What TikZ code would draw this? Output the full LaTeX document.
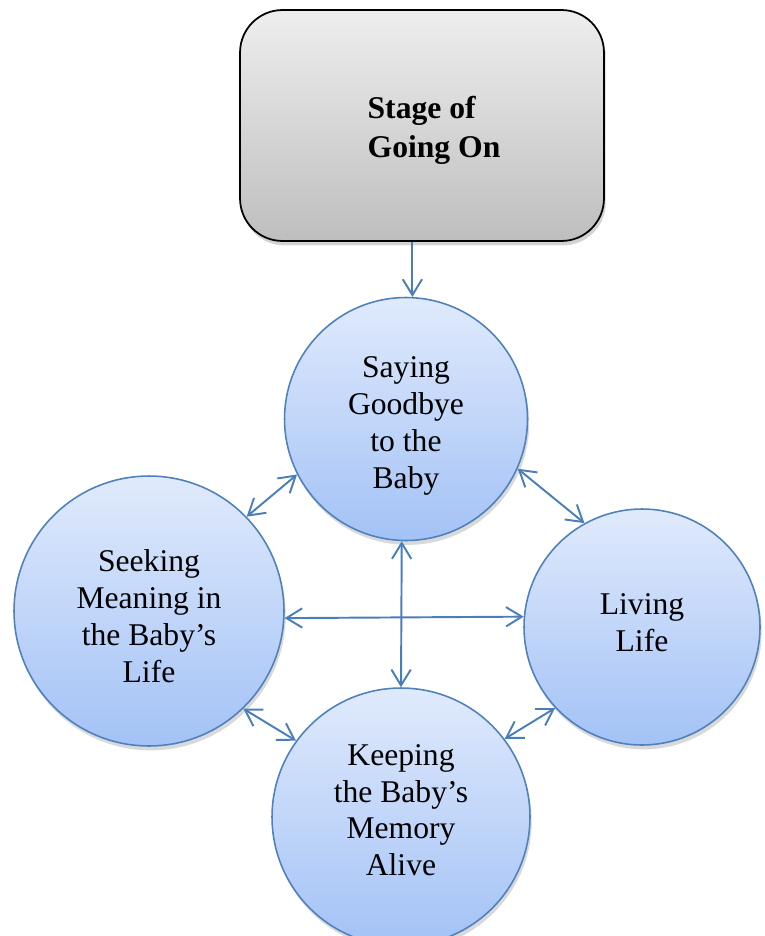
\documentclass[tikz,border=0pt]{standalone}
\usepackage{fontspec}
\setmainfont{Liberation Serif}
\usetikzlibrary{arrows.meta,shadows}
\definecolor{circtop}{HTML}{E0EAFC}
\definecolor{circbot}{HTML}{A3C2F6}
\definecolor{circline}{HTML}{4F81BD}
\definecolor{arr}{HTML}{4A7EBB}
\definecolor{boxtop}{HTML}{EEEEEE}
\definecolor{boxbot}{HTML}{BEBEBE}

\begin{document}
\begin{tikzpicture}[x=0.02cm,y=-0.02cm,
    bubble/.style={circle,draw=circline,line width=0.9pt,top color=circtop,
      bottom color=circbot,minimum size=#1,inner sep=0pt,align=center,
      font=\fontsize{18}{21}\selectfont,
      drop shadow={opacity=0.3,shadow xshift=1pt,shadow yshift=-2.5pt}},
    link/.style={draw=arr,line width=1.1pt,{Straight Barb[length=9pt,width=11pt]}-{Straight Barb[length=9pt,width=11pt]}}]
  \clip (0,0) rectangle (764,936);
  % stage box
  \node[draw=black,line width=1pt,rounded corners=0.85cm,top color=boxtop,
    bottom color=boxbot,minimum width=7.28cm,minimum height=4.62cm,
    drop shadow={opacity=0.35,shadow xshift=1pt,shadow yshift=-2.5pt}]
    (stage) at (422,125.5) {};
  \node[align=left,font=\fontsize{18}{22}\bfseries]
    (stagetext) at ([xshift=0.24cm,yshift=-0.1cm]stage.center) {Stage of\\ Going On};
  % the four circles
  \node[bubble=4.86cm] (say) at (406,419) {\rule{0pt}{20pt}Saying\\Goodbye\\to the\\Baby};
  \node[bubble=5.4cm] (seek) at (149,611) {\rule{0pt}{18pt}Seeking\\Meaning in\\the Baby's\\Life};
  \node[bubble=4.72cm] (live) at (642,627) {Living\\Life\rule[-5pt]{0pt}{5pt}};
  \node[bubble=5.16cm] (keep) at (401,817) {Keeping\\the Baby's\\Memory\\Alive\rule[-8pt]{0pt}{8pt}};
  % connectors
  \draw[draw=arr,line width=1.1pt,-{Straight Barb[length=9pt,width=11pt]}]
    (say.87 |- stage.south) -- (say.87);
  \draw[link] (say.207) -- (seek.44);
  \draw[link] (say.336) -- (live.119);
  \draw[link] (say.268) -- (keep.north);
  \draw[link] (seek.-3) -- (live.175);
  \draw[link] (seek.-46) -- (keep.144);
  \draw[link] (live.223) -- (keep.37);
\end{tikzpicture}
\end{document}
